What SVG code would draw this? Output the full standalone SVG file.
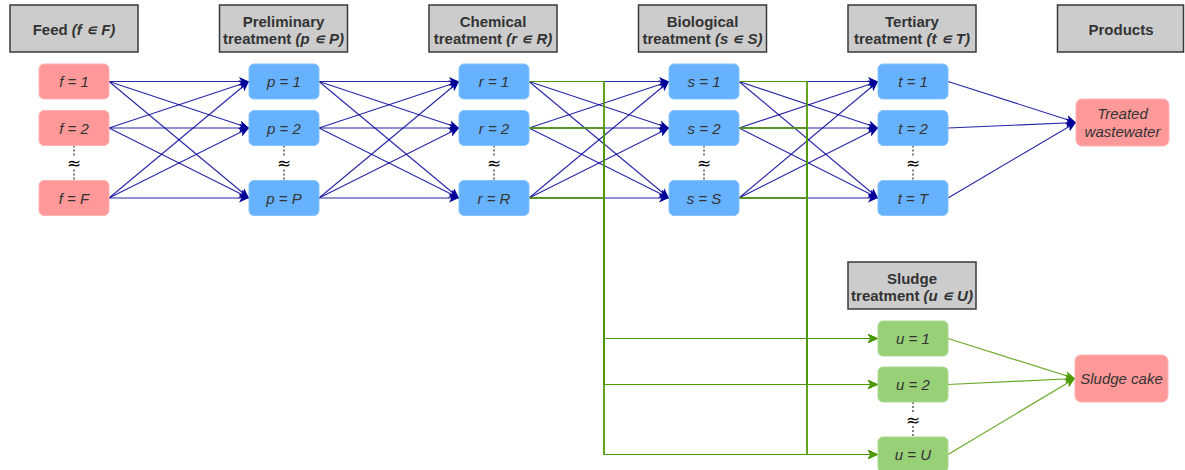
<svg xmlns="http://www.w3.org/2000/svg" width="1185" height="470" viewBox="0 0 1185 470">
<style>
.hdr{fill:#cccccc;stroke:#36393d;stroke-width:1.5}
.ht{font-family:"Liberation Sans",Arial,sans-serif;font-size:15px;font-weight:bold;fill:#333333;text-anchor:middle}
.nt{font-family:"Liberation Sans",Arial,sans-serif;font-size:15px;font-style:italic;fill:#333333;text-anchor:middle}
.red{fill:#ff9999;stroke:#ffb3b3;stroke-width:1}
.blue{fill:#66b2ff;stroke:#85c2ff;stroke-width:1}
.grn{fill:#97d077;stroke:#abd993;stroke-width:1}
.be{fill:none;stroke:#000099;stroke-width:1.1;stroke-opacity:0.85;marker-end:url(#ab)}
.ge{fill:none;stroke:#4d9900;stroke-width:1.2;stroke-opacity:0.85;marker-end:url(#ag)}
.dl{stroke:#000000;stroke-width:1;stroke-dasharray:2 2}
.ap{font-family:"DejaVu Sans",sans-serif;font-size:17px;fill:#000;text-anchor:middle}
</style>
<defs>
<marker id="ab" markerUnits="userSpaceOnUse" markerWidth="11" markerHeight="9" refX="10" refY="4.5" orient="auto"><path d="M0,0 L10,4.5 L0,9 L2.5,4.5 z" fill="#000099"/></marker>
<marker id="ag" markerUnits="userSpaceOnUse" markerWidth="11" markerHeight="9" refX="10" refY="4.5" orient="auto"><path d="M0,0 L10,4.5 L0,9 L2.5,4.5 z" fill="#4d9900"/></marker>
</defs>

<g id="headers">
<g id="h-feed"><rect class="hdr" x="10" y="5" width="128" height="47"/><text class="ht" x="74" y="34.5">Feed <tspan font-style="italic">(f ∊ F)</tspan></text></g>
<g id="h-prelim"><rect class="hdr" x="219.5" y="5" width="128" height="47"/><text class="ht" x="283.5" y="27">Preliminary</text><text class="ht" x="283.5" y="44">treatment <tspan font-style="italic">(p ∊ P)</tspan></text></g>
<g id="h-chem"><rect class="hdr" x="429" y="5" width="128" height="47"/><text class="ht" x="493" y="27">Chemical</text><text class="ht" x="493" y="44">treatment <tspan font-style="italic">(r ∊ R)</tspan></text></g>
<g id="h-bio"><rect class="hdr" x="638.5" y="5" width="128" height="47"/><text class="ht" x="702.5" y="27">Biological</text><text class="ht" x="702.5" y="44">treatment <tspan font-style="italic">(s ∊ S)</tspan></text></g>
<g id="h-tert"><rect class="hdr" x="848" y="5" width="128" height="47"/><text class="ht" x="912" y="27">Tertiary</text><text class="ht" x="912" y="44">treatment <tspan font-style="italic">(t ∊ T)</tspan></text></g>
<g id="h-prod"><rect class="hdr" x="1057.5" y="5" width="126" height="47"/><text class="ht" x="1121" y="34.5">Products</text></g>
<g id="h-sludge"><rect class="hdr" x="848" y="262" width="128" height="47"/><text class="ht" x="912" y="284">Sludge</text><text class="ht" x="912" y="301">treatment <tspan font-style="italic">(u ∊ U)</tspan></text></g>
</g>

<g id="connectors">
<path class="be" d="M109 81.5 L249 81.5"/><path class="be" d="M109 81.5 L249 128"/><path class="be" d="M109 81.5 L249 198"/>
<path class="be" d="M109 128 L249 81.5"/><path class="be" d="M109 128 L249 128"/><path class="be" d="M109 128 L249 198"/>
<path class="be" d="M109 198 L249 81.5"/><path class="be" d="M109 198 L249 128"/><path class="be" d="M109 198 L249 198"/>
<path class="be" d="M319 81.5 L459 81.5"/><path class="be" d="M319 81.5 L459 128"/><path class="be" d="M319 81.5 L459 198"/>
<path class="be" d="M319 128 L459 81.5"/><path class="be" d="M319 128 L459 128"/><path class="be" d="M319 128 L459 198"/>
<path class="be" d="M319 198 L459 81.5"/><path class="be" d="M319 198 L459 128"/><path class="be" d="M319 198 L459 198"/>
<path class="be" d="M529 81.5 L669 81.5"/><path class="be" d="M529 81.5 L669 128"/><path class="be" d="M529 81.5 L669 198"/>
<path class="be" d="M529 128 L669 81.5"/><path class="be" d="M529 128 L669 128"/><path class="be" d="M529 128 L669 198"/>
<path class="be" d="M529 198 L669 81.5"/><path class="be" d="M529 198 L669 128"/><path class="be" d="M529 198 L669 198"/>
<path class="be" d="M739 81.5 L878 81.5"/><path class="be" d="M739 81.5 L878 128"/><path class="be" d="M739 81.5 L878 198"/>
<path class="be" d="M739 128 L878 81.5"/><path class="be" d="M739 128 L878 128"/><path class="be" d="M739 128 L878 198"/>
<path class="be" d="M739 198 L878 81.5"/><path class="be" d="M739 198 L878 128"/><path class="be" d="M739 198 L878 198"/>
<path class="be" d="M948 81.5 L1076 122.5"/><path class="be" d="M948 128 L1076 122.5"/><path class="be" d="M948 198 L1076 122.5"/>
<path class="ge" d="M529 81.5 H604 V338.5 H878"/><path class="ge" d="M529 81.5 H604 V384.5 H878"/><path class="ge" d="M529 81.5 H604 V454.5 H878"/>
<path class="ge" d="M529 128 H604 V338.5 H878"/><path class="ge" d="M529 128 H604 V384.5 H878"/><path class="ge" d="M529 128 H604 V454.5 H878"/>
<path class="ge" d="M529 198 H604 V338.5 H878"/><path class="ge" d="M529 198 H604 V384.5 H878"/><path class="ge" d="M529 198 H604 V454.5 H878"/>
<path class="ge" d="M739 81.5 H807 V338.5 H878"/><path class="ge" d="M739 81.5 H807 V384.5 H878"/><path class="ge" d="M739 81.5 H807 V454.5 H878"/>
<path class="ge" d="M739 128 H807 V338.5 H878"/><path class="ge" d="M739 128 H807 V384.5 H878"/><path class="ge" d="M739 128 H807 V454.5 H878"/>
<path class="ge" d="M739 198 H807 V338.5 H878"/><path class="ge" d="M739 198 H807 V384.5 H878"/><path class="ge" d="M739 198 H807 V454.5 H878"/>
<path class="ge" d="M948 338.5 L1075 378.5"/><path class="ge" d="M948 384.5 L1075 378.5"/><path class="ge" d="M948 454.5 L1075 378.5"/>
<line class="dl" x1="74" y1="145.5" x2="74" y2="180.5"/>
<line class="dl" x1="284" y1="145.5" x2="284" y2="180.5"/>
<line class="dl" x1="494" y1="145.5" x2="494" y2="180.5"/>
<line class="dl" x1="704" y1="145.5" x2="704" y2="180.5"/>
<line class="dl" x1="913" y1="145.5" x2="913" y2="180.5"/>
<line class="dl" x1="913" y1="402" x2="913" y2="437"/>
<g fill="#ffffff">
<rect x="68" y="156" width="12" height="13"/><rect x="278" y="156" width="12" height="13"/><rect x="488" y="156" width="12" height="13"/><rect x="698" y="156" width="12" height="13"/><rect x="907" y="156" width="12" height="13"/><rect x="907" y="413" width="12" height="13"/>
</g>
<text class="ap" x="74" y="169">≈</text><text class="ap" x="284" y="169">≈</text><text class="ap" x="494" y="169">≈</text><text class="ap" x="704" y="169">≈</text><text class="ap" x="913" y="169">≈</text><text class="ap" x="913" y="426">≈</text>
</g>

<g id="n-f1"><rect class="red" x="39" y="64" width="70" height="35" rx="5"/><text class="nt" x="74" y="87">f = 1</text></g>
<g id="n-f2"><rect class="red" x="39" y="110.5" width="70" height="35" rx="5"/><text class="nt" x="74" y="133.5">f = 2</text></g>
<g id="n-fF"><rect class="red" x="39" y="180.5" width="70" height="35" rx="5"/><text class="nt" x="74" y="203.5">f = F</text></g>

<g id="n-p1"><rect class="blue" x="249" y="64" width="70" height="35" rx="5"/><text class="nt" x="284" y="87">p = 1</text></g>
<g id="n-p2"><rect class="blue" x="249" y="110.5" width="70" height="35" rx="5"/><text class="nt" x="284" y="133.5">p = 2</text></g>
<g id="n-pP"><rect class="blue" x="249" y="180.5" width="70" height="35" rx="5"/><text class="nt" x="284" y="203.5">p = P</text></g>

<g id="n-r1"><rect class="blue" x="459" y="64" width="70" height="35" rx="5"/><text class="nt" x="494" y="87">r = 1</text></g>
<g id="n-r2"><rect class="blue" x="459" y="110.5" width="70" height="35" rx="5"/><text class="nt" x="494" y="133.5">r = 2</text></g>
<g id="n-rR"><rect class="blue" x="459" y="180.5" width="70" height="35" rx="5"/><text class="nt" x="494" y="203.5">r = R</text></g>

<g id="n-s1"><rect class="blue" x="669" y="64" width="70" height="35" rx="5"/><text class="nt" x="704" y="87">s = 1</text></g>
<g id="n-s2"><rect class="blue" x="669" y="110.5" width="70" height="35" rx="5"/><text class="nt" x="704" y="133.5">s = 2</text></g>
<g id="n-sS"><rect class="blue" x="669" y="180.5" width="70" height="35" rx="5"/><text class="nt" x="704" y="203.5">s = S</text></g>

<g id="n-t1"><rect class="blue" x="878" y="64" width="70" height="35" rx="5"/><text class="nt" x="913" y="87">t = 1</text></g>
<g id="n-t2"><rect class="blue" x="878" y="110.5" width="70" height="35" rx="5"/><text class="nt" x="913" y="133.5">t = 2</text></g>
<g id="n-tT"><rect class="blue" x="878" y="180.5" width="70" height="35" rx="5"/><text class="nt" x="913" y="203.5">t = T</text></g>

<g id="n-u1"><rect class="grn" x="878" y="321" width="70" height="35" rx="5"/><text class="nt" x="913" y="344">u = 1</text></g>
<g id="n-u2"><rect class="grn" x="878" y="367" width="70" height="35" rx="5"/><text class="nt" x="913" y="390">u = 2</text></g>
<g id="n-uU"><rect class="grn" x="878" y="437" width="70" height="35" rx="5"/><text class="nt" x="913" y="460">u = U</text></g>

<g id="n-tw"><rect class="red" x="1076" y="99" width="93" height="47" rx="6"/><text class="nt" x="1122.5" y="119">Treated</text><text class="nt" x="1122.5" y="137">wastewater</text></g>
<g id="n-sc"><rect class="red" x="1075" y="355" width="93" height="47" rx="6"/><text class="nt" x="1121.5" y="384">Sludge cake</text></g>
</svg>
